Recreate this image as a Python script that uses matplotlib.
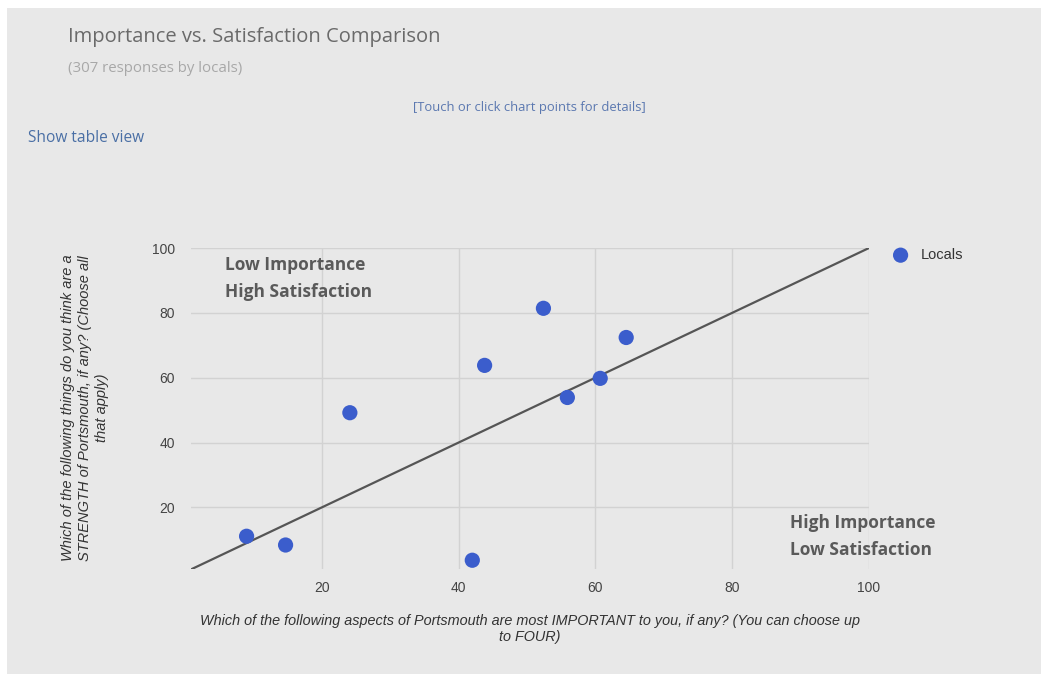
import matplotlib
matplotlib.use("Agg")
import matplotlib.pyplot as plt
from matplotlib.patches import Rectangle

# Importance (x) vs satisfaction (y) for locals, in percent
importance = [9.0, 14.7, 24.1, 42.0, 43.8, 52.4, 55.9, 60.7, 64.5]
satisfaction = [11.1, 8.4, 49.2, 3.7, 63.8, 81.4, 53.9, 59.8, 72.4]
series_name = "Locals"
diagonal = [0, 100]
ticks = [20, 40, 60, 80, 100]

W, H = 1041, 674
BG = "#e8e8e8"
DOT = "#3b5dcc"


# Convert pixel coords (top-left origin) to figure fraction
def fx(px):
    return px / W


def fy(py):
    return 1 - py / H


fig = plt.figure(figsize=(W / 100, H / 100), dpi=100, facecolor="white")
fig.patches.append(Rectangle((fx(7), 0), 1 - fx(7), fy(8), transform=fig.transFigure,
                             facecolor=BG, edgecolor="none", zorder=-10))

ax = fig.add_axes([fx(190.5), fy(569), fx(869) - fx(190.5), fy(248) - fy(569)])
ax.set_facecolor(BG)
ax.set_xlim(0.8, 100)
ax.set_ylim(1, 100)
ax.set_xticks(ticks)
ax.set_yticks(ticks)
ax.grid(color="#d2d2d2", linewidth=1)
ax.set_axisbelow(True)
for s in ax.spines.values():
    s.set_visible(False)
ax.tick_params(length=0, labelsize=10, labelcolor="#444444")
ax.tick_params(axis="x", pad=9)
ax.tick_params(axis="y", pad=11)
for lab in ax.get_xticklabels() + ax.get_yticklabels():
    lab.set_fontfamily("Liberation Sans")

ax.plot(diagonal, diagonal, color="#555555", linewidth=1.6, zorder=2)
ax.scatter(importance, satisfaction, s=120, color=DOT, zorder=3, label=series_name,
           edgecolors="none")

leg = ax.legend(loc="center left", bbox_to_anchor=(fx(886), fy(255)), bbox_transform=fig.transFigure,
                frameon=False, handletextpad=0.4, borderpad=0, borderaxespad=0,
                prop={"family": "Liberation Sans", "size": 10.5})
for t in leg.get_texts():
    t.set_color("#333333")

# Quadrant labels
qfont = dict(family="Open Sans", fontweight="bold", fontsize=12.5, color="#5a5a5a")
fig.text(fx(225), fy(265), "Low Importance", va="center", ha="left", **qfont)
fig.text(fx(225), fy(292), "High Satisfaction", va="center", ha="left", **qfont)
fig.text(fx(790), fy(523), "High Importance", va="center", ha="left", **qfont)
fig.text(fx(790), fy(550), "Low Satisfaction", va="center", ha="left", **qfont)

# Header texts
fig.text(fx(68), fy(37), "Importance vs. Satisfaction Comparison", va="center", ha="left",
         family="Open Sans", fontsize=14.5, color="#6a6a6a")
fig.text(fx(68), fy(69), "(307 responses by locals)", va="center", ha="left",
         family="Open Sans", fontsize=10.8, color="#a8a8a8")
fig.text(fx(529), fy(107), "[Touch or click chart points for details]", va="center", ha="center",
         family="Open Sans", fontsize=9.4, color="#5b78b0")
fig.text(fx(28), fy(138), "Show table view", va="center", ha="left",
         family="Open Sans", fontsize=11.2, color="#4a6fa5")

# Axis titles
fig.text(fx(530), fy(629),
         "Which of the following aspects of Portsmouth are most IMPORTANT to you, if any? (You can choose up\nto FOUR)",
         ha="center", va="center", family="Liberation Sans", style="italic", fontsize=10.4,
         color="#333333", linespacing=1.25)
fig.text(fx(85), fy(408),
         "Which of the following things do you think are a\nSTRENGTH of Portsmouth, if any? (Choose all\nthat apply)",
         ha="center", va="center", rotation=90, family="Liberation Sans", style="italic",
         fontsize=10.5, color="#333333", linespacing=1.3)

fig.savefig("out.png", dpi=100, facecolor=fig.get_facecolor())
